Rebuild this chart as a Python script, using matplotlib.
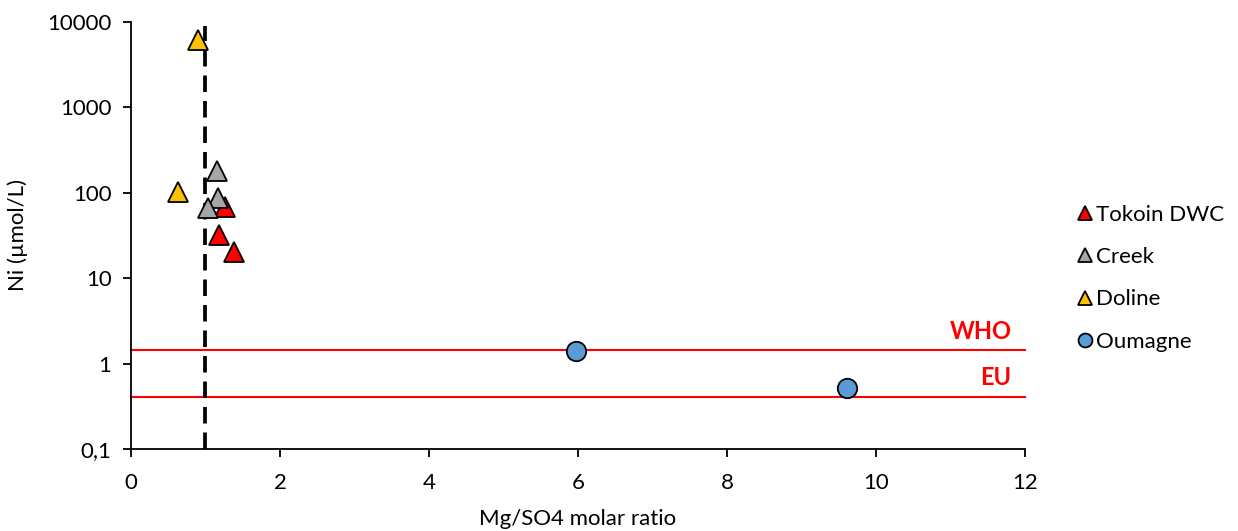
import matplotlib
matplotlib.use("Agg")
import matplotlib.pyplot as plt
from matplotlib.ticker import FixedLocator, FixedFormatter, NullLocator
from matplotlib.lines import Line2D

plt.rcParams['font.family'] = ['Lato', 'DejaVu Sans']

# Data
tokoin_x = [1.26, 1.18, 1.38]
tokoin_y = [68, 32, 20]
creek_x = [1.15, 1.17, 1.03]
creek_y = [180, 87, 66]
doline_x = [0.90, 0.63]
doline_y = [6200, 102]
oumagne_x = [5.97, 9.61]
oumagne_y = [1.40, 0.52]

who_limit = 1.43
eu_limit = 0.41
ratio_line = 1.0

x_ticks = [0, 2, 4, 6, 8, 10, 12]
y_ticks = [0.1, 1, 10, 100, 1000, 10000]
y_tick_labels = ['0,1', '1', '10', '100', '1000', '10000']

fig = plt.figure(figsize=(12.38, 5.31), dpi=100)
ax = fig.add_axes([0.1058, 0.1544, 0.7222, 0.8042])
ax.set_yscale('log')
ax.set_xlim(0, 12)
ax.set_ylim(0.1, 10000)

ax.axhline(who_limit, color='#ff0000', lw=1.5, zorder=1, clip_on=False)
ax.axhline(eu_limit, color='#ff0000', lw=1.5, zorder=1, clip_on=False)
ax.text(11.82, who_limit * 1.22, 'WHO', color='#ff0000', fontweight='bold',
        fontsize=17, ha='right', va='bottom')
ax.text(11.82, eu_limit * 1.22, 'EU', color='#ff0000', fontweight='bold',
        fontsize=17, ha='right', va='bottom')

ax.plot([ratio_line, ratio_line], [0.1, 9000], color='black', lw=2.7,
        ls=(0, (4.4, 2.4)), zorder=2)

ms = 14
ax.plot(tokoin_x, tokoin_y, ls='none', marker='^', ms=ms, mfc='#ff0000', mec='black', mew=1.3, zorder=3)
ax.plot(creek_x, creek_y, ls='none', marker='^', ms=ms, mfc='#a6a6a6', mec='black', mew=1.3, zorder=3)
ax.plot(doline_x, doline_y, ls='none', marker='^', ms=ms, mfc='#ffc000', mec='black', mew=1.3, zorder=3)
ax.plot(oumagne_x, oumagne_y, ls='none', marker='o', ms=ms, mfc='#5b9bd5', mec='black', mew=1.3, zorder=3)

for s in ['top', 'right']:
    ax.spines[s].set_visible(False)
for s in ['left', 'bottom']:
    ax.spines[s].set_linewidth(1.3)
    ax.spines[s].set_color('black')

ax.xaxis.set_major_locator(FixedLocator(x_ticks))
ax.set_xticklabels([str(t) for t in x_ticks])
ax.yaxis.set_major_locator(FixedLocator(y_ticks))
ax.yaxis.set_major_formatter(FixedFormatter(y_tick_labels))
ax.yaxis.set_minor_locator(NullLocator())
ax.tick_params(axis='both', which='major', direction='out', length=6, width=1.3,
               labelsize=16, colors='black', pad=8)
ax.tick_params(axis='x', pad=11)

ax.set_xlabel('Mg/SO4 molar ratio', fontsize=16, labelpad=12)
ax.set_ylabel('Ni (µmol/L)', fontsize=16, labelpad=14)

handles = [
    Line2D([], [], ls='none', marker='^', ms=10, mfc='#ff0000', mec='black', mew=1.3, label='Tokoin DWC'),
    Line2D([], [], ls='none', marker='^', ms=10, mfc='#a6a6a6', mec='black', mew=1.3, label='Creek'),
    Line2D([], [], ls='none', marker='^', ms=10, mfc='#ffc000', mec='black', mew=1.3, label='Doline'),
    Line2D([], [], ls='none', marker='o', ms=10, mfc='#5b9bd5', mec='black', mew=1.3, label='Oumagne'),
]
fig.legend(handles=handles, loc='upper left', bbox_to_anchor=(0.860, 0.635),
           frameon=False, fontsize=16, handletextpad=0.1, labelspacing=1.0,
           handlelength=0.8, borderpad=0)

fig.savefig('out.png', dpi=100)
